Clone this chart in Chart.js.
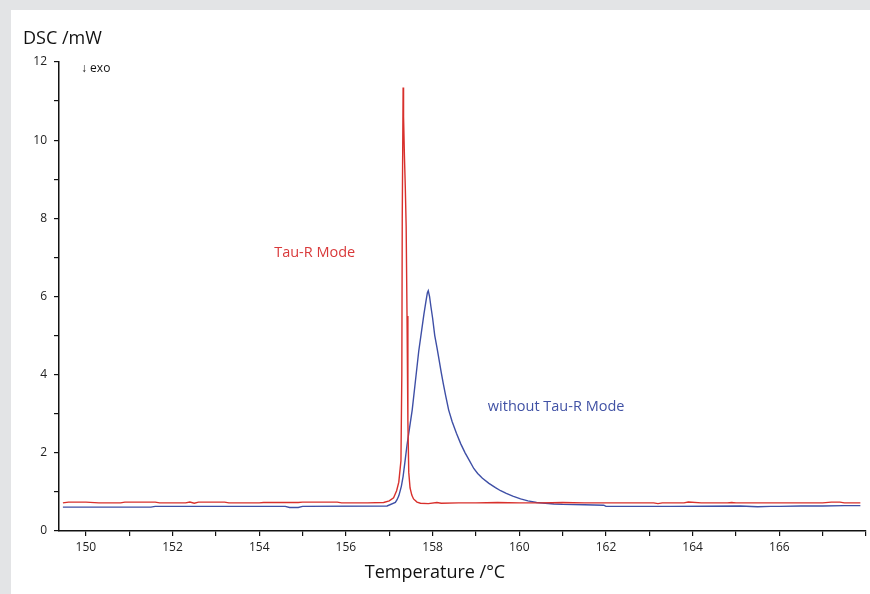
<!DOCTYPE html>
<html>
<head>
<meta charset="utf-8">
<script src="https://cdn.jsdelivr.net/npm/chart.js@4/dist/chart.umd.min.js"></script>
<style>
  html, body { margin: 0; padding: 0; background: #e3e4e6; }
  #wrap { position: absolute; left: 0; top: 0; width: 870px; height: 594px; }
</style>
</head>
<body>
<div id="wrap"><canvas id="c" width="870" height="594"></canvas></div>
<script>
// Temperature (°C) and DSC signal (mW) for the curve WITH Tau-R Mode
const tauRTemps = [149.47, 149.6, 150.0, 150.3, 150.8, 150.9, 151.6, 151.7, 152.3, 152.4, 152.5, 152.6,
  153.2, 153.3, 154.0, 154.1, 154.9, 155.0, 155.8, 155.9, 156.5, 156.87, 157.0, 157.1, 157.17, 157.22,
  157.27, 157.29, 157.30, 157.32, 157.33, 157.35, 157.37, 157.39, 157.41, 157.43, 157.45, 157.48,
  157.52, 157.56, 157.64, 157.72, 157.9, 158.1, 158.2, 158.6, 159.0, 159.5, 160.0, 160.5, 161.0,
  161.5, 162.0, 162.5, 163.1, 163.2, 163.3, 163.8, 163.9, 164.2, 164.8, 164.9, 165.0, 165.8, 166.5,
  167.0, 167.2, 167.4, 167.5, 167.87];
const tauRValues = [0.72, 0.74, 0.74, 0.72, 0.72, 0.74, 0.74, 0.72, 0.72, 0.74, 0.71, 0.74,
  0.74, 0.72, 0.72, 0.73, 0.73, 0.74, 0.74, 0.72, 0.72, 0.73, 0.77, 0.85, 1.03, 1.25,
  1.8, 4.0, 8.0, 11.35, 10.6, 9.6, 8.8, 7.8, 5.5, 2.8, 1.5, 1.1,
  0.92, 0.82, 0.74, 0.71, 0.70, 0.73, 0.71, 0.72, 0.72, 0.73, 0.72, 0.72, 0.73,
  0.72, 0.72, 0.72, 0.72, 0.70, 0.72, 0.72, 0.74, 0.72, 0.72, 0.73, 0.72, 0.72, 0.72,
  0.72, 0.74, 0.74, 0.72, 0.72];

// Temperature (°C) and DSC signal (mW) for the curve WITHOUT Tau-R Mode
const plainTemps = [149.47, 151.5, 151.6, 154.6, 154.7, 154.9, 155.0, 156.95, 157.14, 157.18, 157.22,
  157.25, 157.28, 157.32, 157.36, 157.41, 157.47, 157.53, 157.6, 157.68, 157.75, 157.8, 157.85, 157.88,
  157.90, 157.93, 157.96, 158.0, 158.05, 158.1, 158.14, 158.2, 158.25, 158.3, 158.37, 158.45, 158.55,
  158.65, 158.75, 158.85, 158.95, 159.04, 159.15, 159.3, 159.45, 159.57, 159.7, 159.85, 160.03, 160.2,
  160.4, 160.6, 160.8, 161.0, 161.5, 161.95, 162.0, 163.5, 165.1, 165.5, 165.8, 166.0, 166.5, 167.0,
  167.5, 167.87];
const plainValues = [0.61, 0.61, 0.63, 0.63, 0.60, 0.60, 0.63, 0.64, 0.73, 0.8, 0.9,
  1.02, 1.15, 1.4, 1.75, 2.2, 2.65, 3.1, 3.8, 4.6, 5.15, 5.55, 5.9, 6.1,
  6.15, 6.0, 5.75, 5.45, 5.0, 4.7, 4.44, 4.05, 3.75, 3.47, 3.1, 2.8, 2.5,
  2.23, 2.0, 1.8, 1.6, 1.47, 1.35, 1.22, 1.11, 1.03, 0.96, 0.89, 0.82, 0.77,
  0.73, 0.71, 0.69, 0.68, 0.67, 0.66, 0.63, 0.63, 0.64, 0.62, 0.63, 0.63, 0.64, 0.64,
  0.65, 0.65];

const xTickLabels = [150, 152, 154, 156, 158, 160, 162, 164, 166];
const yTickLabels = [0, 2, 4, 6, 8, 10, 12];

const seriesNames = ['Tau-R Mode', 'without Tau-R Mode'];
const axisTitles = { x: 'Temperature /°C', y: 'DSC /mW' };
const exoLabel = '↓ exo';

const RED = '#d8302c';
const BLUE = '#3e4fa6';
const FONT = "'Open Sans', 'Noto Sans', sans-serif";

const toPoints = (xs, ys) => xs.map((x, i) => ({ x: x, y: ys[i] }));

const decor = {
  id: 'decor',
  beforeDraw(chart) {
    const ctx = chart.ctx;
    ctx.save();
    ctx.fillStyle = '#e3e4e6';
    ctx.fillRect(0, 0, chart.width, chart.height);
    ctx.fillStyle = '#ffffff';
    ctx.fillRect(11, 10, chart.width - 11, chart.height - 10);
    ctx.restore();
  },
  afterDraw(chart) {
    const ctx = chart.ctx;
    const xs = chart.scales.x, ys = chart.scales.y;
    ctx.save();
    ctx.textBaseline = 'alphabetic';
    // y axis title
    ctx.fillStyle = '#111';
    ctx.font = '18px ' + FONT;
    ctx.textAlign = 'left';
    ctx.fillText(axisTitles.y, 23, 44);
    // x axis title
    ctx.textAlign = 'center';
    ctx.fillText(axisTitles.x, 435, 578);
    // exo
    ctx.font = '12px ' + FONT;
    ctx.textAlign = 'left';
    ctx.fillText(exoLabel, 81, 72);
    // series labels
    ctx.font = '14.5px ' + FONT;
    ctx.fillStyle = '#d9393a';
    ctx.textAlign = 'center';
    ctx.fillText(seriesNames[0], xs.getPixelForValue(155.28), ys.getPixelForValue(7.02));
    ctx.fillStyle = '#4152a5';
    ctx.fillText(seriesNames[1], xs.getPixelForValue(160.85), ys.getPixelForValue(3.07));
    ctx.restore();
  }
};

new Chart(document.getElementById('c'), {
  type: 'line',
  data: {
    datasets: [
      { label: seriesNames[0], data: toPoints(tauRTemps, tauRValues), borderColor: RED,
        borderWidth: 1.4, pointRadius: 0, tension: 0, fill: false },
      { label: seriesNames[1], data: toPoints(plainTemps, plainValues), borderColor: BLUE,
        borderWidth: 1.4, pointRadius: 0, tension: 0, fill: false }
    ]
  },
  options: {
    responsive: false,
    animation: false,
    events: [],
    layout: { padding: { left: 0, right: 3, top: 62, bottom: 0 } },
    plugins: { legend: { display: false }, tooltip: { enabled: false } },
    scales: {
      x: {
        type: 'linear',
        min: 149.38,
        max: 168.0,
        afterFit(s) { s.height = 63; },
        border: { display: true, color: '#111', width: 1.5 },
        grid: { display: true, drawOnChartArea: false, drawTicks: true, tickLength: 5, color: '#111', lineWidth: 1.2 },
        ticks: {
          stepSize: 1,
          includeBounds: false,
          autoSkip: false,
          maxRotation: 0,
          padding: 4,
          color: '#222',
          font: { family: FONT, size: 12 },
          callback: (v) => xTickLabels.includes(v) ? String(v) : ''
        }
      },
      y: {
        type: 'linear',
        min: 0,
        max: 12,
        afterFit(s) { s.width = 59; },
        border: { display: true, color: '#111', width: 1.5 },
        grid: { display: true, drawOnChartArea: false, drawTicks: true, tickLength: 5, color: '#111', lineWidth: 1.2 },
        ticks: {
          stepSize: 1,
          autoSkip: false,
          padding: 7,
          color: '#222',
          font: { family: FONT, size: 12 },
          callback: (v) => yTickLabels.includes(v) ? String(v) : ''
        }
      }
    }
  },
  plugins: [decor]
});
</script>
</body>
</html>
